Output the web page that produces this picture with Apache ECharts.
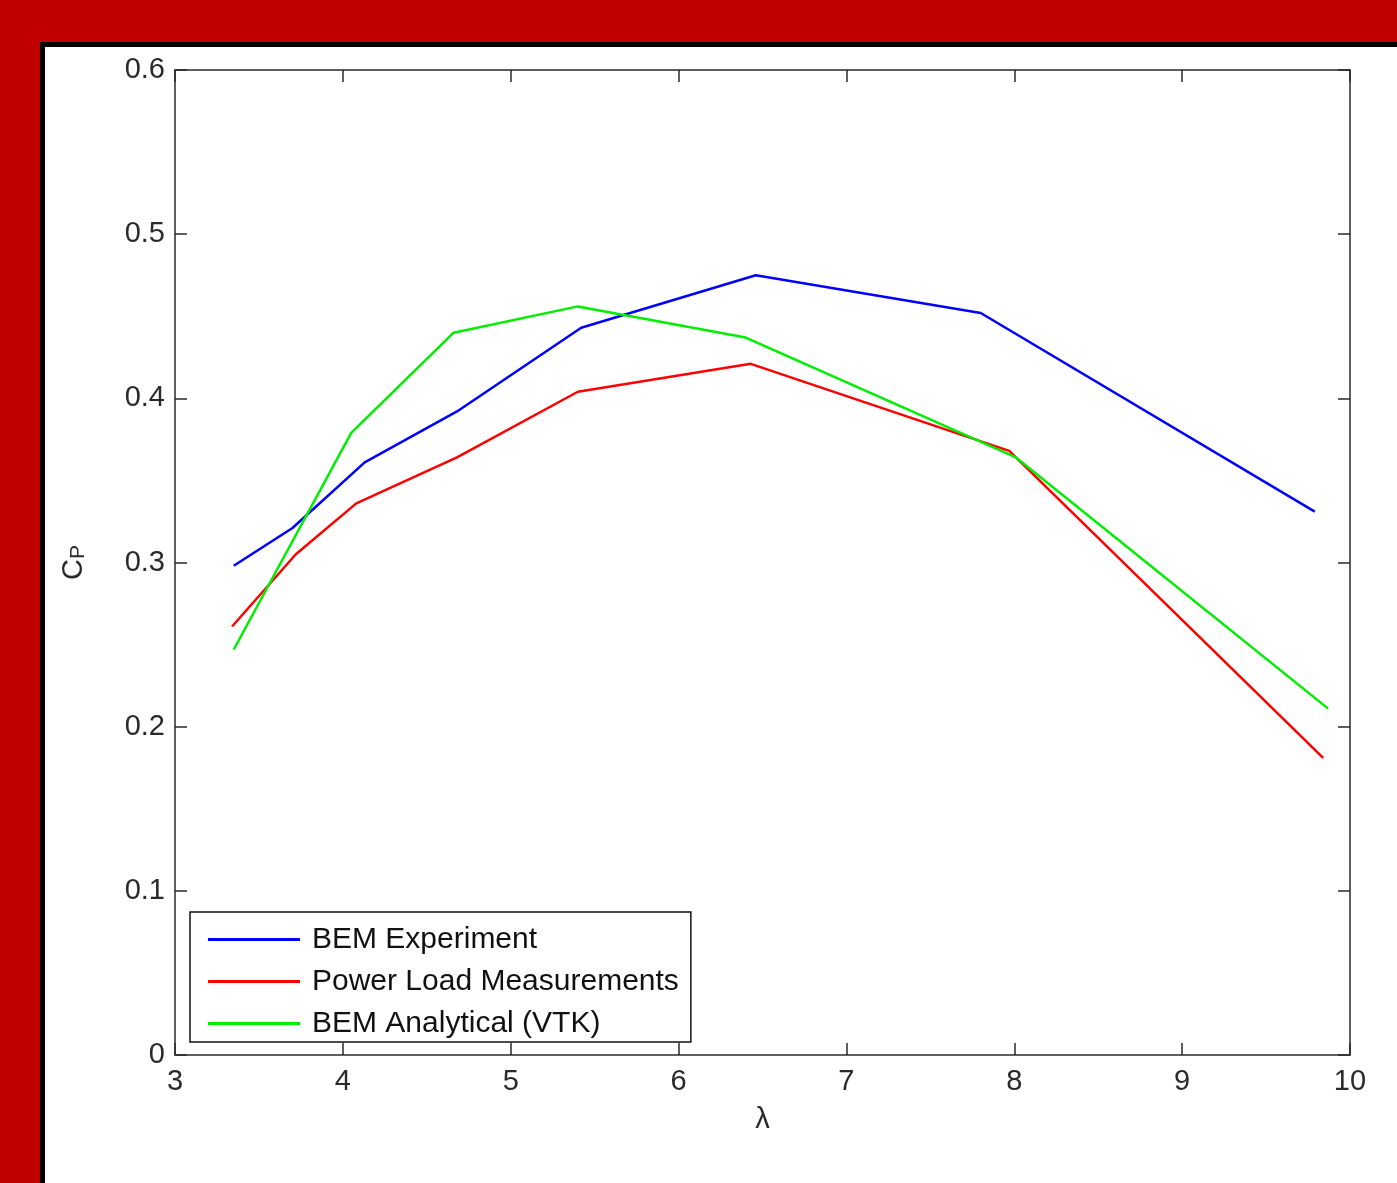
<!DOCTYPE html>
<html>
<head>
<meta charset="utf-8">
<script src="https://cdn.jsdelivr.net/npm/echarts@6/dist/echarts.min.js"></script>
<style>
  html, body { margin: 0; padding: 0; width: 1397px; height: 1183px; background: #C00000; overflow: hidden; }
  #frame { position: absolute; left: 40px; top: 42px; width: 1400px; height: 1200px; background: #ffffff; border: 5px solid #000000; box-sizing: border-box; }
  #chart { position: absolute; left: 0; top: 0; width: 1397px; height: 1183px; }
</style>
</head>
<body>
<div id="frame"></div>
<div id="chart"></div>
<script>
// Tip speed ratio (lambda) and power coefficient (Cp) values
const seriesNames = ['BEM Experiment', 'Power Load Measurements', 'BEM Analytical (VTK)'];

const bemExpX = [3.35, 3.70, 4.13, 4.68, 5.42, 6.46, 7.80, 9.79];
const bemExpY = [0.298, 0.321, 0.361, 0.392, 0.443, 0.475, 0.452, 0.331];

const powerLoadX = [3.34, 3.72, 4.08, 4.68, 5.40, 6.43, 7.97, 9.84];
const powerLoadY = [0.261, 0.305, 0.336, 0.364, 0.404, 0.421, 0.368, 0.181];

const bemVtkX = [3.35, 4.05, 4.66, 5.40, 6.40, 8.01, 9.87];
const bemVtkY = [0.247, 0.379, 0.440, 0.456, 0.437, 0.364, 0.211];

const xTicks = [3, 4, 5, 6, 7, 8, 9, 10];
const yTicks = [0, 0.1, 0.2, 0.3, 0.4, 0.5, 0.6];

function pairs(xs, ys) { return xs.map((x, i) => [x, ys[i]]); }

const axisColor = '#2a2a2a';
const labelColor = '#2a2a2a';
const font = '"Liberation Sans", Arial, Helvetica, sans-serif';
const fs = 29;

const chart = echarts.init(document.getElementById('chart'), null, { renderer: 'canvas' });

const baseX = {
  type: 'value', min: xTicks[0], max: xTicks[xTicks.length - 1], interval: 1,
  axisLine: { show: true, onZero: false, lineStyle: { color: axisColor, width: 1.5 } },
  axisTick: { show: true, inside: true, length: 12, lineStyle: { color: axisColor, width: 1.5 } },
  splitLine: { show: false }
};
const baseY = {
  type: 'value', min: yTicks[0], max: yTicks[yTicks.length - 1], interval: 0.1,
  axisLine: { show: true, onZero: false, lineStyle: { color: axisColor, width: 1.5 } },
  axisTick: { show: true, inside: true, length: 12, lineStyle: { color: axisColor, width: 1.5 } },
  splitLine: { show: false }
};

chart.setOption({
  backgroundColor: 'transparent',
  animation: false,
  grid: { left: 175, right: 47, top: 70, bottom: 128, containLabel: false },
  xAxis: [
    Object.assign({}, baseX, {
      position: 'bottom',
      name: 'λ', nameLocation: 'middle', nameGap: 50,
      nameTextStyle: { fontSize: fs, color: labelColor, fontFamily: font },
      axisLabel: { show: true, fontSize: fs, color: labelColor, fontFamily: font, margin: 12 }
    }),
    Object.assign({}, baseX, { position: 'top', axisLabel: { show: false } })
  ],
  yAxis: [
    Object.assign({}, baseY, {
      position: 'left',
      name: 'C{sub|P}', nameLocation: 'middle', nameGap: 86, nameRotate: 90,
      nameTextStyle: {
        fontSize: fs, color: labelColor, fontFamily: font,
        rich: { sub: { fontSize: 21, color: labelColor, fontFamily: font, verticalAlign: 'bottom', padding: [10, 0, 0, 0] } }
      },
      axisLabel: {
        show: true, fontSize: fs, color: labelColor, fontFamily: font, margin: 10,
        formatter: v => (v === 0 ? '0' : v.toFixed(1))
      }
    }),
    Object.assign({}, baseY, { position: 'right', axisLabel: { show: false } })
  ],
  legend: {
    show: true,
    orient: 'vertical',
    left: 190, top: 912,
    padding: [12, 12, 3, 18],
    itemGap: 11,
    itemWidth: 92, itemHeight: 14,
    backgroundColor: '#ffffff',
    borderColor: '#111111', borderWidth: 1.5, borderRadius: 0,
    textStyle: { fontSize: 30, color: '#111111', fontFamily: font, lineHeight: 31, padding: [0, 0, 0, 7] },
    data: seriesNames.map(n => ({ name: n, icon: 'path://M0,0 L92,0 L92,3 L0,3 Z' }))
  },
  series: [
    { name: seriesNames[0], type: 'line', xAxisIndex: 0, yAxisIndex: 0, data: pairs(bemExpX, bemExpY),
      symbol: 'none', lineStyle: { color: '#0000ff', width: 2.5 }, itemStyle: { color: '#0000ff' } },
    { name: seriesNames[1], type: 'line', xAxisIndex: 0, yAxisIndex: 0, data: pairs(powerLoadX, powerLoadY),
      symbol: 'none', lineStyle: { color: '#ff0000', width: 2.5 }, itemStyle: { color: '#ff0000' } },
    { name: seriesNames[2], type: 'line', xAxisIndex: 0, yAxisIndex: 0, data: pairs(bemVtkX, bemVtkY),
      symbol: 'none', lineStyle: { color: '#00ee00', width: 2.5 }, itemStyle: { color: '#00ee00' } }
  ]
});
</script>
</body>
</html>
